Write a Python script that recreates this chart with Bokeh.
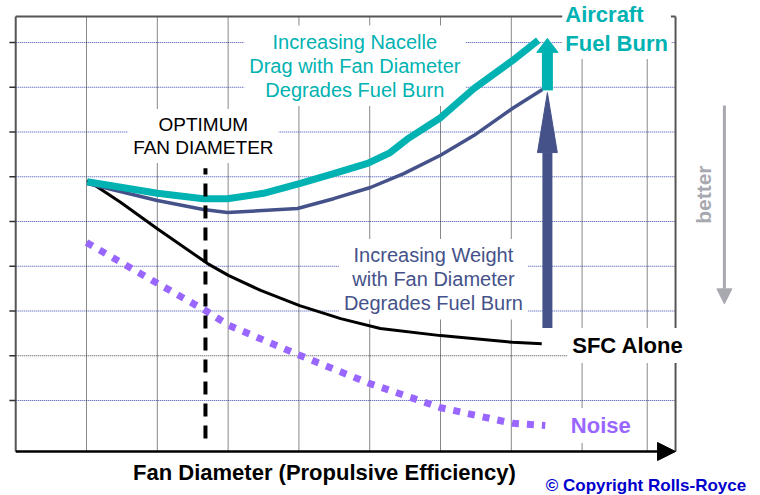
from math import pi
from bokeh.plotting import figure
from bokeh.models import Label, Arrow, NormalHead, Range1d
from bokeh.embed import file_html
from bokeh.resources import INLINE

# ---------------- data ----------------
fuel_x = [1.01, 2.00, 2.65, 2.99, 3.50, 4.02, 4.49, 4.97, 5.29, 5.53, 6.00, 6.47, 7.02, 7.38]
fuel_y = [5.89, 5.63, 5.51, 5.51, 5.63, 5.85, 6.07, 6.30, 6.54, 6.84, 7.32, 7.97, 8.60, 9.05]

weight_x = [1.01, 2.00, 2.65, 2.99, 3.98, 4.49, 5.01, 5.48, 6.00, 6.47, 7.02, 7.44]
weight_y = [5.85, 5.47, 5.27, 5.20, 5.29, 5.51, 5.76, 6.07, 6.48, 6.92, 7.53, 7.95]

sfc_x = [1.01, 1.48, 2.00, 2.71, 3.01, 3.46, 4.01, 4.59, 5.15, 6.00, 7.02, 7.43]
sfc_y = [5.92, 5.43, 4.84, 4.06, 3.79, 3.46, 3.12, 2.83, 2.61, 2.45, 2.30, 2.27]

noise_x = [1.00, 2.00, 2.68, 3.01, 4.01, 5.00, 6.00, 7.02, 7.48]
noise_y = [4.53, 3.62, 3.01, 2.68, 2.01, 1.38, 0.84, 0.49, 0.44]

optimum_x = 2.68
optimum_y = [0.15, 6.19]

arrow_x = 7.51
nacelle_arrow = [7.93, 9.09]   # weight -> aircraft fuel burn
weight_arrow = [2.62, 7.88]    # sfc -> weight

grid_x = [1, 2, 3, 4, 5, 6, 7, 8, 8.92]
grid_y = [1, 2, 3, 4, 5, 6, 7, 8, 9]

# ---------------- style ----------------
TEAL = "#00B2B2"
SLATE = "#45528A"
PURPLE = "#9966FF"
GRIDBLUE = "#3A48B0"
GRAY = "#A8A8B0"
FONT = "Liberation Sans"

X0, X1, Y0, Y1 = 0.0, 9.32, -0.14, 9.58

p = figure(width=760, height=495, x_range=Range1d(-0.215, 10.52), y_range=Range1d(-1.123, 9.939),
           output_backend="svg", toolbar_location=None, x_axis_location=None, y_axis_location=None,
           min_border=0, outline_line_color=None)
p.xgrid.visible = False
p.ygrid.visible = False

# grid
for gy in grid_y:
    p.segment(x0=X0, y0=gy, x1=X1, y1=gy, line_color="#444444" if gy == 2 else GRIDBLUE,
              line_width=1, line_dash="1 1")
p.segment(x0=grid_x, y0=[Y0] * len(grid_x), x1=grid_x, y1=[Y1] * len(grid_x),
          line_color="#111111", line_width=1, line_dash="1 1")

# frame
p.segment(x0=[X0, X0, X1], y0=[Y1, Y0, Y0], x1=[X1, X0, X1], y1=[Y1, Y1, Y1],
          line_color="#555555", line_width=2)
# left ticks
p.segment(x0=[-0.09] * len(grid_y), y0=grid_y, x1=[X0] * len(grid_y), y1=grid_y,
          line_color="#333333", line_width=1.5)
# x axis with arrow
p.add_layout(Arrow(x_start=X0, y_start=Y0, x_end=X1, y_end=Y0, line_color="black", line_width=2.5,
                   end=NormalHead(size=18, fill_color="black", line_color="black")))

# curves
ov = dict(level="overlay")
p.line(noise_x, noise_y, line_color=PURPLE, line_width=7, line_dash="7 8", **ov)
p.line(sfc_x, sfc_y, line_color="black", line_width=3, **ov)
p.line(weight_x, weight_y, line_color=SLATE, line_width=3.5, **ov)
p.line(fuel_x, fuel_y, line_color=TEAL, line_width=7, **ov)
p.segment(x0=optimum_x, y0=optimum_y[0], x1=optimum_x, y1=optimum_y[1], line_color="black",
          line_width=4, line_dash="13 9", **ov)


def draw_arrow(ys, color, shaft_w, head_len, head_hw):
    base, tip = ys
    neck = tip - head_len
    p.segment(x0=arrow_x, y0=base, x1=arrow_x, y1=neck, line_color=color, line_width=shaft_w,
              line_cap="butt", **ov)
    p.patch([arrow_x - head_hw, arrow_x + head_hw, arrow_x], [neck, neck, tip],
            fill_color=color, line_color=color, **ov)


draw_arrow(nacelle_arrow, TEAL, 11, 0.31, 0.15)
draw_arrow(weight_arrow, SLATE, 10, 1.34, 0.14)

# "better" arrow
p.add_layout(Arrow(x_start=10.01, y_start=7.59, x_end=10.01, y_end=3.16, line_color=GRAY, line_width=3,
                   end=NormalHead(size=15, fill_color=GRAY, line_color=GRAY)))


def lab(x, y, text, color, size, bold=False, align="left", pad=4, bg=True, angle=0.0, lh=1.1):
    p.add_layout(Label(x=x, y=y, text=text, text_color=color, text_font=FONT,
                       text_font_size=size, text_font_style="bold" if bold else "normal",
                       text_align=align, text_baseline="middle", text_line_height=lh,
                       background_fill_color="white" if bg else None, padding=pad, angle=angle))


lab(4.79, 8.48, "Increasing Nacelle\nDrag with Fan Diameter\nDegrades Fuel Burn", TEAL, "20px",
    align="center", pad=5)
lab(2.65, 6.91, "OPTIMUM\nFAN DIAMETER", "black", "19px", align="center", pad=5)
lab(5.90, 3.71, "Increasing Weight\nwith Fan Diameter\nDegrades Fuel Burn", SLATE, "20px",
    align="center", pad=5)
lab(7.72, 9.30, "Aircraft\nFuel Burn", TEAL, "22px", bold=True, pad=3, lh=1.15)
lab(7.79, 2.23, "SFC Alone", "black", "22px", bold=True, pad=5)
lab(7.77, 0.44, "Noise", PURPLE, "22px", bold=True, pad=5)
lab(4.36, -0.61, "Fan Diameter (Propulsive Efficiency)", "black", "22px", bold=True, align="center",
    bg=False)
lab(7.43, -0.90, "© Copyright Rolls-Royce", "#0000CC", "17px", bold=True, bg=False)
lab(9.72, 5.60, "better", GRAY, "21px", bold=True, align="center", bg=False, angle=pi / 2)

open("out.html", "w").write(file_html(p, INLINE))
